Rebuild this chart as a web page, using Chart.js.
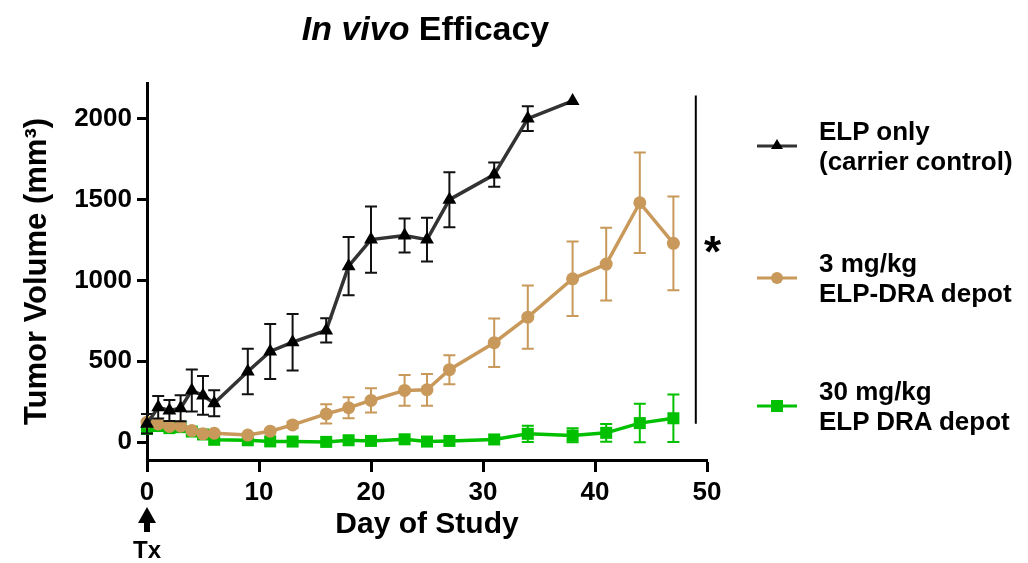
<!DOCTYPE html>
<html>
<head>
<meta charset="utf-8">
<script src="https://cdn.jsdelivr.net/npm/chart.js@4.4.1/dist/chart.umd.min.js"></script>
<style>
    body { margin: 0; background: #fff; font-family: "Liberation Sans", Arial, sans-serif; }
    #wrap { position: relative; width: 1028px; height: 563px; overflow: hidden; }
    #chart { position: absolute; left: 0; top: 0; }
    .title { position: absolute; left: 0; width: 851px; top: 9px; text-align: center; font-weight: bold; font-size: 34px; }
    .leg { position: absolute; left: 757px; font-weight: bold; font-size: 26px; line-height: 30px; white-space: nowrap; }
    .leg svg { position: absolute; left: 0; top: 20px; }
    .leg div { margin-left: 62px; }
    .star { position: absolute; left: 704px; top: 230px; font-weight: bold; font-size: 44px; line-height: 44px; }
    .tx { position: absolute; left: 132px; top: 537px; width: 30px; text-align: center; font-weight: bold; font-size: 24px; line-height: 26px; }
</style>
</head>
<body>
<div id="wrap">
    <canvas id="chart" width="1028" height="563"></canvas>
    <div class="title"><i>In vivo</i> Efficacy</div>

    <div class="leg" style="top:116px">
        <svg width="42" height="20"><line x1="0" y1="10" x2="40" y2="10" stroke="#333" stroke-width="3"/><polygon points="20,3 26,13 14,13" fill="#000"/></svg>
        <div>ELP only</div><div>(carrier control)</div>
    </div>
    <div class="leg" style="top:248px">
        <svg width="42" height="20"><line x1="0" y1="10" x2="40" y2="10" stroke="#c8995a" stroke-width="3"/><circle cx="20" cy="10" r="6" fill="#c8995a"/></svg>
        <div>3 mg/kg</div><div>ELP-DRA depot</div>
    </div>
    <div class="leg" style="top:376px">
        <svg width="42" height="20"><line x1="0" y1="10" x2="40" y2="10" stroke="#00c000" stroke-width="3"/><rect x="14" y="4" width="12" height="12" fill="#00c000"/></svg>
        <div>30 mg/kg</div><div>ELP DRA depot</div>
    </div>

    <div class="star">*</div>
    <div class="tx">Tx</div>
</div>

<script>
// days of measurement
const daysCtrl = [0, 1, 2, 3, 4, 5, 6, 9, 11, 13, 16, 18, 20, 23, 25, 27, 31, 34, 38];
const daysDra = [0, 1, 2, 3, 4, 5, 6, 9, 11, 13, 16, 18, 20, 23, 25, 27, 31, 34, 38, 41, 44, 47];

// mean tumor volume (mm3) and SEM
const elpOnly    = [114, 216, 196, 210, 320, 289, 241, 437, 561, 618, 691, 1088, 1252, 1278, 1252, 1499, 1654, 2000, 2109];
const elpOnlyErr = [60, 70, 65, 80, 130, 120, 80, 140, 170, 175, 75, 180, 205, 105, 135, 170, 75, 77, 0];

const dra3    = [124, 113, 97, 99, 72, 52, 56, 44, 68, 107, 175, 213, 258, 320, 324, 448, 615, 773, 1010, 1101, 1480, 1229];
const dra3Err = [0, 0, 0, 0, 0, 0, 0, 0, 0, 20, 60, 65, 75, 95, 98, 90, 150, 195, 230, 225, 310, 290];

const dra30    = [83, 100, 87, 93, 66, 48, 15, 12, 5, 4, 2, 12, 8, 18, 4, 8, 17, 52, 41, 58, 118, 148];
const dra30Err = [30, 0, 0, 0, 0, 0, 0, 0, 0, 0, 0, 0, 0, 0, 0, 0, 0, 50, 45, 55, 120, 147];

const yTicks = [0, 500, 1000, 1500, 2000];
const xTicks = [0, 10, 20, 30, 40, 50];

// significance bracket (day, from / to volume)
const sigDay = 49;
const sigRange = [114, 2143];

const pts = (days, vals) => days.map((d, i) => ({ x: d, y: vals[i] }));

// draws SEM whiskers under each dataset
const errorBars = {
    id: 'errorBars',
    beforeDatasetDraw(chart, args) {
        const ds = chart.data.datasets[args.index];
        if (!ds.errors) return;
        const { ctx, scales: { x, y } } = chart;
        ctx.save();
        ctx.strokeStyle = ds.errorColor;
        ctx.lineWidth = 2;
        ds.data.forEach((p, i) => {
            const e = ds.errors[i];
            if (!e) return;
            const px = x.getPixelForValue(p.x);
            const top = y.getPixelForValue(p.y + e);
            const bot = y.getPixelForValue(Math.max(p.y - e, 0));
            ctx.beginPath();
            ctx.moveTo(px, top); ctx.lineTo(px, bot);
            ctx.moveTo(px - 6, top); ctx.lineTo(px + 6, top);
            ctx.moveTo(px - 6, bot); ctx.lineTo(px + 6, bot);
            ctx.stroke();
        });
        ctx.restore();
    }
};

// significance line + treatment arrow
const extras = {
    id: 'extras',
    afterDraw(chart) {
        const { ctx, scales: { x, y } } = chart;
        ctx.save();
        ctx.strokeStyle = '#000';
        ctx.lineWidth = 2;
        const sx = x.getPixelForValue(sigDay);
        ctx.beginPath();
        ctx.moveTo(sx, y.getPixelForValue(sigRange[1]));
        ctx.lineTo(sx, y.getPixelForValue(sigRange[0]));
        ctx.stroke();

        // Tx arrow under day 0
        const ax = x.getPixelForValue(0);
        ctx.fillStyle = '#000';
        ctx.beginPath();
        ctx.moveTo(ax, 507);
        ctx.lineTo(ax + 9, 523);
        ctx.lineTo(ax - 9, 523);
        ctx.closePath();
        ctx.fill();
        ctx.fillRect(ax - 3, 522, 6, 10);
        ctx.restore();
    }
};

const tickFont = { family: '"Liberation Sans", Arial, sans-serif', size: 26, weight: 'bold' };
const titleFont = { family: '"Liberation Sans", Arial, sans-serif', size: 30, weight: 'bold' };

new Chart(document.getElementById('chart'), {
    type: 'line',
    data: {
        datasets: [
            {
                label: 'ELP only (carrier control)',
                data: pts(daysCtrl, elpOnly),
                errors: elpOnlyErr, errorColor: '#111',
                borderColor: '#333', borderWidth: 3.5,
                pointStyle: 'triangle', pointRadius: 8, pointBackgroundColor: '#000', pointBorderColor: '#000', pointBorderWidth: 0,
                clip: false,
            },
            {
                label: '3 mg/kg ELP-DRA depot',
                data: pts(daysDra, dra3),
                errors: dra3Err, errorColor: '#c8995a',
                borderColor: '#c8995a', borderWidth: 3.5,
                pointStyle: 'circle', pointRadius: 6.5, pointBackgroundColor: '#c8995a', pointBorderColor: '#c8995a', pointBorderWidth: 0,
                clip: false,
            },
            {
                label: '30 mg/kg ELP DRA depot',
                data: pts(daysDra, dra30),
                errors: dra30Err, errorColor: '#00c000',
                borderColor: '#00c000', borderWidth: 3.5,
                pointStyle: 'rect', pointRadius: 8.5, pointBackgroundColor: '#00c000', pointBorderColor: '#00c000', pointBorderWidth: 0,
                clip: false,
            },
        ],
    },
    options: {
        responsive: false,
        animation: false,
        layout: { padding: { top: 83, right: 321, left: 0, bottom: 0 } },
        plugins: { legend: { display: false }, tooltip: { enabled: false } },
        scales: {
            x: {
                type: 'linear', min: 0, max: 50,
                afterFit: s => { s.height = 103; },
                afterBuildTicks: s => { s.ticks = xTicks.map(v => ({ value: v })); },
                border: { display: true, color: '#000', width: 3 },
                grid: { display: true, drawOnChartArea: false, drawTicks: true, tickLength: 12, tickWidth: 3, tickColor: '#000' },
                ticks: { color: '#000', font: tickFont, padding: 5, maxRotation: 0, callback: v => String(v) },
                title: { display: true, text: 'Day of Study', color: '#000', font: titleFont, padding: { bottom: 20 } },
            },
            y: {
                type: 'linear', min: -110, max: 2220,
                afterFit: s => { s.width = 147; },
                afterBuildTicks: s => { s.ticks = yTicks.map(v => ({ value: v })); },
                border: { display: true, color: '#000', width: 3 },
                grid: { display: true, drawOnChartArea: false, drawTicks: true, tickLength: 10, tickWidth: 3, tickColor: '#000' },
                ticks: { color: '#000', font: tickFont, padding: 5, callback: v => String(v) },
                title: { display: true, text: 'Tumor Volume (mm³)', color: '#000', font: { ...titleFont, size: 31 }, padding: { top: 19 } },
            },
        },
    },
    plugins: [errorBars, extras],
});
</script>
</body>
</html>
